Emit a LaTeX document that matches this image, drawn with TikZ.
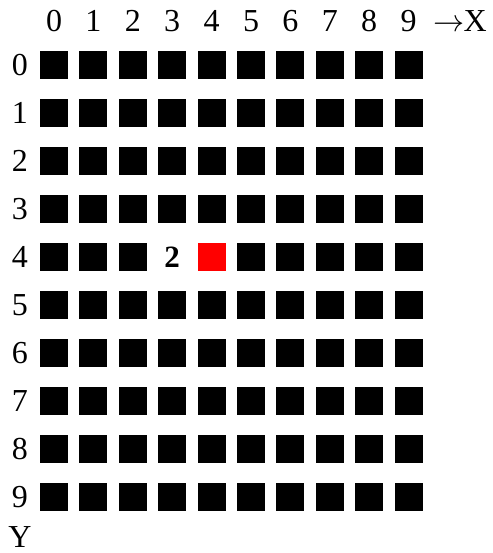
\documentclass[tikz,border=0pt]{standalone}
\usepackage{fontspec}
\setmainfont{Liberation Serif}
\usetikzlibrary{positioning}
\tikzset{
  cell/.style={fill=black, minimum size=28pt, inner sep=0pt},
  lbl/.style={font=\fontsize{32}{36}\selectfont, inner sep=0pt},
}
\begin{document}
\begin{tikzpicture}[x=1pt, y=-1pt]
    \useasboundingbox (0,0) rectangle (492,553);
    % Column numbers
    \foreach \i in {0,...,9}
        \node [lbl] (col-\i) at (54+39.4*\i, 21) {\i};
    \node [lbl] (xaxis) at (460,21) {\scalebox{1.25}{$\rightarrow$}\kern-1pt X};

    % Row numbers and cells
    \foreach \j in {0,...,9} {
        \node [lbl] (row-\j) at (20, 65+48*\j) {\j};
        \foreach \i in {0,...,9} {
            \ifnum\j\i=43 \else\ifnum\j\i=44 \else
                \node [cell] (c-\i-\j) at (54+39.4*\i, 65+48*\j) {};
            \fi\fi
        }
    }

    % Marked cells in row 4
    \node [lbl, font=\fontsize{31}{34}\selectfont\bfseries] (c-3-4) at (54+39.4*3, 65+48*4) {2};
    \node [cell, fill=red] (c-4-4) at (54+39.4*4, 65+48*4) {};

    % Y axis
    \node [lbl] (yaxis) at (20,537) {Y};
\end{tikzpicture}
\end{document}
